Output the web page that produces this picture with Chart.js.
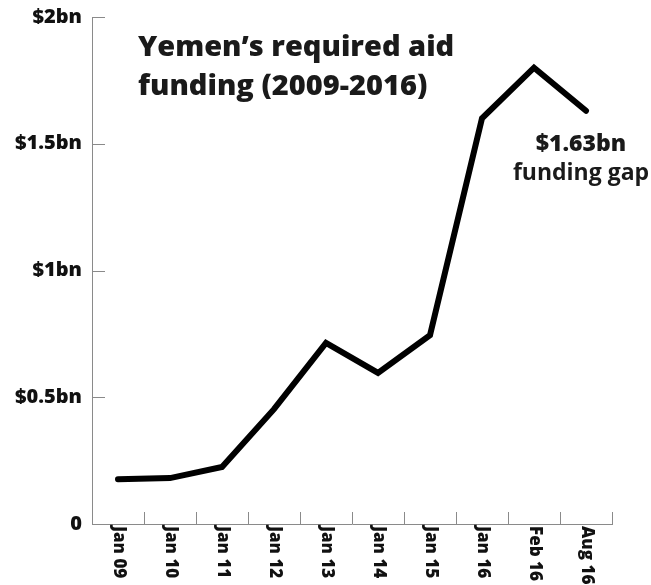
<!DOCTYPE html>
<html>
<head>
<meta charset="utf-8">
<script src="https://cdn.jsdelivr.net/npm/chart.js@4/dist/chart.umd.min.js"></script>
<style>
    html, body { margin: 0; padding: 0; background: #fff; }
    #wrap { width: 651px; height: 585px; position: relative; }
</style>
</head>
<body>
<div id="wrap"><canvas id="fundingChart" width="651" height="585"></canvas></div>
<script>
let months = ['Jan 09', 'Jan 10', 'Jan 11', 'Jan 12', 'Jan 13', 'Jan 14', 'Jan 15', 'Jan 16', 'Feb 16', 'Aug 16'],
    funding = [0.177, 0.181, 0.225, 0.453, 0.714, 0.596, 0.745, 1.60, 1.80, 1.63],
    yTickValues = [0, 0.5, 1, 1.5, 2],
    yTickLabels = ['0', '$0.5bn', '$1bn', '$1.5bn', '$2bn'],
    titleLines = ['Yemen\u2019s required aid', 'funding (2009-2016)'],
    gapLines = ['$1.63bn', 'funding gap'];

const fontFamily = '"Open Sans", Lato, sans-serif';

// inward tick marks, rotated month labels, title and the gap note
const extrasPlugin = {
    id: 'extras',
    afterDraw(chart) {
        const ctx = chart.ctx,
            xScale = chart.scales.x,
            yScale = chart.scales.y,
            area = chart.chartArea;

        ctx.save();
        ctx.strokeStyle = '#8a8a8a';
        ctx.lineWidth = 1;

        yTickValues.forEach(function(v) {
            if (v === 0) return;
            const y = Math.round(yScale.getPixelForValue(v)) + 0.5;
            ctx.beginPath();
            ctx.moveTo(area.left, y);
            ctx.lineTo(area.left + 13, y);
            ctx.stroke();
        });

        months.forEach(function(m, i) {
            const x = Math.round(xScale.getPixelForValue(i + 0.5)) + 0.5;
            ctx.beginPath();
            ctx.moveTo(x, area.bottom);
            ctx.lineTo(x, area.bottom - 12);
            ctx.stroke();
        });

        // month labels read top to bottom
        ctx.fillStyle = '#111';
        ctx.font = '800 17px ' + fontFamily;
        ctx.textAlign = 'left';
        ctx.textBaseline = 'middle';
        months.forEach(function(m, i) {
            ctx.save();
            ctx.translate(xScale.getPixelForValue(i) + 1, area.bottom + 2);
            ctx.rotate(Math.PI / 2);
            ctx.fillText(m, 0, 0);
            ctx.restore();
        });

        // title
        ctx.font = '800 29px ' + fontFamily;
        ctx.textBaseline = 'alphabetic';
        ctx.fillStyle = '#1a1a1a';
        ctx.fillText(titleLines[0], 138, 56);
        ctx.fillText(titleLines[1], 138, 95);

        // gap note under the last point
        const last = funding.length - 1,
            px = xScale.getPixelForValue(last),
            py = yScale.getPixelForValue(funding[last]);
        ctx.textAlign = 'center';
        ctx.font = '800 23px ' + fontFamily;
        ctx.fillText(gapLines[0], px - 5, py + 40);
        ctx.font = '700 23px ' + fontFamily;
        ctx.fillText(gapLines[1], px - 5, py + 69);

        ctx.restore();
    }
};

const chartCanvas = document.querySelector('#fundingChart').getContext('2d');

new Chart(chartCanvas, {
    type: 'line',
    data: {
        labels: months,
        datasets: [
            {
                label: 'Required aid funding',
                data: funding,
                borderColor: '#000',
                borderWidth: 6,
                borderCapStyle: 'round',
                borderJoinStyle: 'miter',
                tension: 0,
                fill: false,
                pointRadius: 0,
                pointHoverRadius: 0
            }
        ]
    },
    options: {
        responsive: false,
        animation: false,
        events: [],
        layout: {
            padding: { top: 17, right: 39, left: 0, bottom: 0 }
        },
        plugins: {
            legend: { display: false },
            tooltip: { enabled: false }
        },
        scales: {
            x: {
                offset: true,
                grid: { display: false, drawTicks: false },
                border: { display: true, color: '#8a8a8a', width: 1 },
                ticks: { display: false },
                afterFit(scale) { scale.height = 61; }
            },
            y: {
                min: 0,
                max: 2,
                afterBuildTicks(scale) {
                    scale.ticks = yTickValues.map(v => ({ value: v }));
                },
                grid: { display: false, drawTicks: false },
                border: { display: true, color: '#8a8a8a', width: 1 },
                ticks: {
                    padding: 10,
                    color: '#111',
                    font: { family: fontFamily, size: 20, weight: '800' },
                    callback: function(value) {
                        const idx = yTickValues.indexOf(value);
                        return idx >= 0 ? yTickLabels[idx] : '';
                    }
                },
                afterFit(scale) {
                    scale.width = 92;
                    scale.paddingTop = 0;
                    scale.paddingBottom = 0;
                }
            }
        }
    },
    plugins: [extrasPlugin]
});
</script>
</body>
</html>
